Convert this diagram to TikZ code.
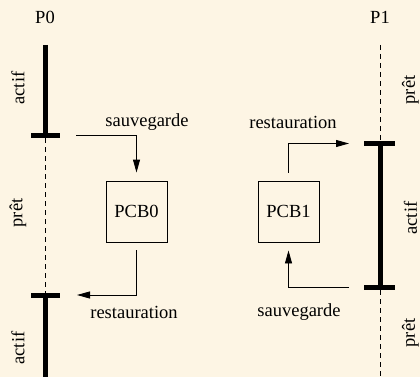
\documentclass[tikz,border=0pt]{standalone}
\usepackage{fontspec}
\setmainfont{Liberation Serif}
\usetikzlibrary{arrows.meta}
\definecolor{bg}{RGB}{253,245,228}
\tikzset{
  lbl/.style={inner sep=0pt, font=\fontsize{18.5}{21}\selectfont},
  vlbl/.style={lbl, rotate=90},
  pcb/.style={draw, line width=0.9pt, minimum width=61pt, minimum height=61pt, inner sep=0pt, font=\fontsize{18.5}{21}\selectfont},
  act/.style={line width=5pt},
  bar/.style={line width=5pt},
  wait/.style={line width=0.9pt, dash pattern=on 5pt off 4pt},
  flow/.style={line width=0.9pt, -{Triangle[length=13pt,width=7pt]}},
}
\begin{document}
\begin{tikzpicture}[x=1pt,y=-1pt]
\fill[bg] (0,0) rectangle (420,377);
\useasboundingbox (0,0) rectangle (420,377);
% process labels
\node[lbl] (p0) at (45,17) {P0};
\node[lbl] (p1) at (380,17) {P1};
% P0 timeline
\coordinate (a0top) at (45,45);
\coordinate (a0end) at (45,135.5);
\coordinate (b0l) at (31,135.5);
\coordinate (b0r) at (60,135.5);
\coordinate (a1top) at (45,295);
\coordinate (b1l) at (31,295);
\coordinate (b1r) at (60,295);
\coordinate (a1bot) at (45,380);
\draw[act] (a0top) -- (a0end);
\draw[bar] (b0l) -- (b0r);
\draw[wait] (45,138) -- (45,293);
\draw[bar] (b1l) -- (b1r);
\draw[act] (a1top) -- (a1bot);
\node[vlbl] (actif0) at (18,88) {actif};
\node[vlbl] (pret0) at (18,213) {prêt};
\node[vlbl] (actif1) at (18,348) {actif};
% P1 timeline
\coordinate (c0top) at (380,45);
\coordinate (c0bot) at (380,141);
\coordinate (d0l) at (364,143.5);
\coordinate (d0r) at (395,143.5);
\coordinate (d1l) at (364,287);
\coordinate (d1r) at (395,287);
\coordinate (c1top) at (380,290);
\coordinate (c1bot) at (380,377);
\draw[wait] (c0top) -- (c0bot);
\draw[bar] (d0l) -- (d0r);
\draw[act] (380,143.5) -- (380,287);
\draw[bar] (d1l) -- (d1r);
\draw[wait] (c1top) -- (c1bot);
\node[vlbl] (pret1) at (410.5,90) {prêt};
\node[vlbl] (actif2) at (410.5,218) {actif};
\node[vlbl] (pret2) at (410.5,333) {prêt};
% PCB boxes
\node[pcb] (pcb0) at (136.5,211.5) {PCB0};
\node[pcb] (pcb1) at (288.5,211.5) {PCB1};
% arrows P0
\coordinate (s0start) at (76,135.5);
\draw[flow] (s0start) -| ([yshift=8pt]pcb0.north);
\node[lbl] (sauv0) at (147,122) {sauvegarde};
\coordinate (r0end) at (77,295);
\draw[flow] ([yshift=-8pt]pcb0.south) |- (r0end);
\node[lbl] (rest0) at (134,312) {restauration};
% arrows P1
\coordinate (r1end) at (349,143.5);
\draw[flow] ([yshift=8pt]pcb1.north) |- (r1end);
\node[lbl] (rest1) at (293,122) {restauration};
\coordinate (s1start) at (349,287);
\draw[flow] (s1start) -| ([yshift=-8pt]pcb1.south);
\node[lbl] (sauv1) at (299,312) {sauvegarde};
\end{tikzpicture}
\end{document}
